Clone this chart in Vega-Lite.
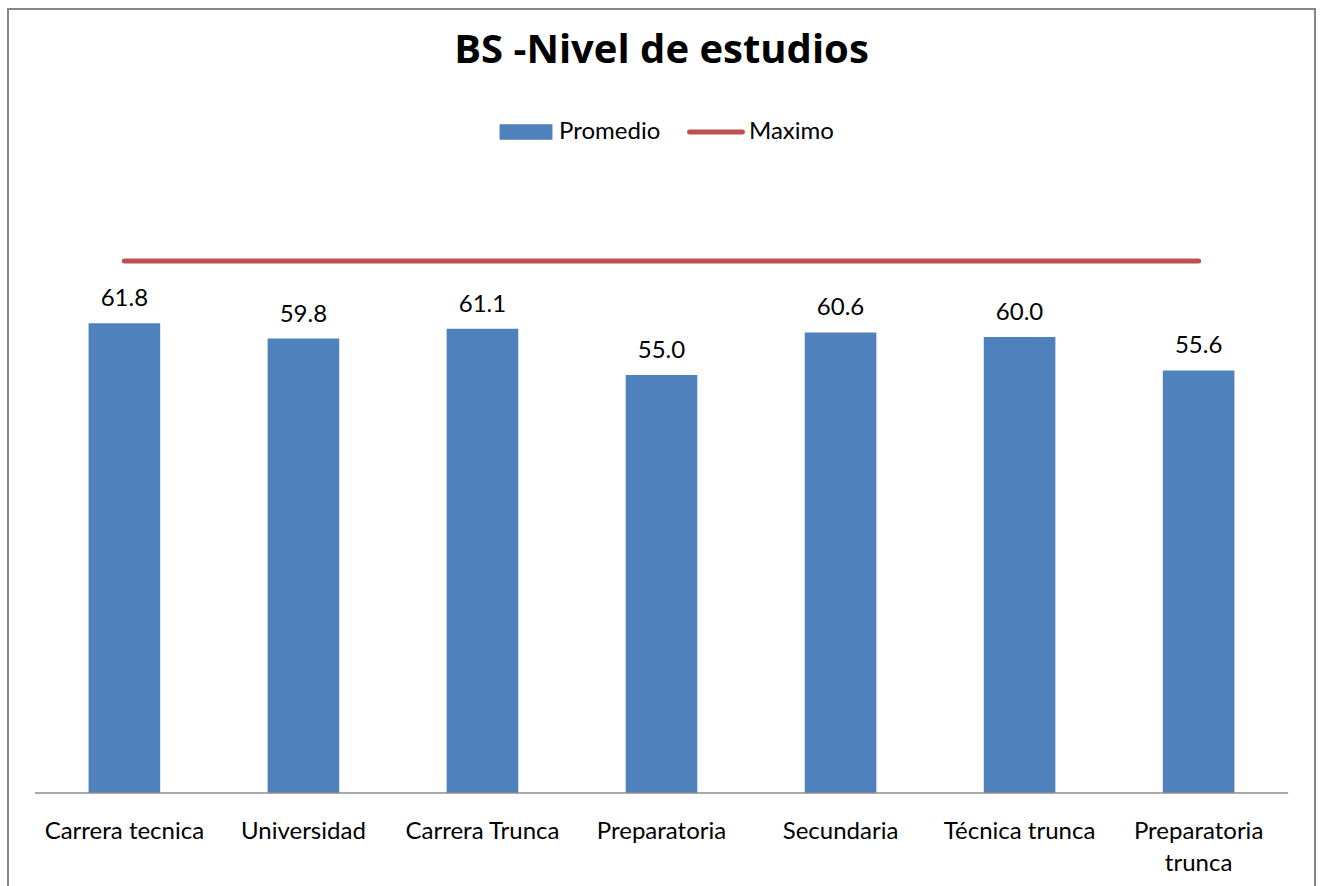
{
  "$schema": "https://vega.github.io/schema/vega-lite/v6.json",
  "width": 1307,
  "height": 880,
  "autosize": {"type": "none"},
  "padding": {"left": 8, "top": 9, "right": 8, "bottom": 0},
  "background": "white",
  "config": {
    "font": "Lato",
    "view": {"stroke": "#868686", "strokeWidth": 2}
  },
  "title": {
    "text": "BS -Nivel de estudios",
    "font": "Open Sans",
    "fontSize": 40,
    "fontWeight": "bold",
    "color": "#000000",
    "anchor": "middle",
    "frame": "group",
    "baseline": "alphabetic",
    "offset": -94
  },
  "data": {
    "values": [
      {"nivel": "Carrera tecnica", "promedio": 61.8, "maximo": 70},
      {"nivel": "Universidad", "promedio": 59.8, "maximo": 70},
      {"nivel": "Carrera Trunca", "promedio": 61.1, "maximo": 70},
      {"nivel": "Preparatoria", "promedio": 55.0, "maximo": 70},
      {"nivel": "Secundaria", "promedio": 60.6, "maximo": 70},
      {"nivel": "Técnica trunca", "promedio": 60.0, "maximo": 70},
      {"nivel": "Preparatoria trunca", "promedio": 55.6, "maximo": 70}
    ]
  },
  "encoding": {
    "x": {
      "field": "nivel",
      "type": "nominal",
      "sort": null,
      "scale": {"type": "band", "paddingInner": 0, "paddingOuter": 0.15},
      "axis": {
        "title": null,
        "domain": false,
        "ticks": false,
        "tickSize": 0,
        "labelAngle": 0,
        "labelFontSize": 24,
        "labelColor": "#000000",
        "labelBaseline": "alphabetic",
        "labelPadding": 45,
        "labelLineHeight": 32,
        "offset": -96,
        "labelExpr": "datum.label == 'Preparatoria trunca' ? ['Preparatoria', 'trunca'] : datum.label"
      }
    }
  },
  "layer": [
    {
      "mark": {"type": "bar", "width": {"band": 0.4}},
      "encoding": {
        "y": {
          "field": "promedio",
          "type": "quantitative",
          "scale": {"domain": [-12.63, 103.16], "nice": false, "zero": false},
          "axis": null
        },
        "y2": {"datum": 0},
        "color": {
          "datum": "Promedio",
          "type": "nominal",
          "scale": {"domain": ["Promedio", "Maximo"], "range": ["#4F81BD", "#C0504D"]},
          "legend": {
            "title": null,
            "orient": "none",
            "direction": "horizontal",
            "legendX": 506,
            "legendY": 111,
            "labelFontSize": 24,
            "labelColor": "#000000",
            "labelOffset": 21,
            "columnPadding": 18,
            "symbolSize": 2800,
            "encode": {
              "symbols": {
                "update": {
                  "shape": {"signal": "datum.value === 'Maximo' ? 'M-1,0H1' : 'M-1,-0.29H1V0.29H-1Z'"},
                  "fill": {"signal": "datum.value === 'Maximo' ? 'transparent' : '#4F81BD'"},
                  "stroke": {"signal": "datum.value === 'Maximo' ? '#C0504D' : 'transparent'"},
                  "strokeWidth": {"signal": "datum.value === 'Maximo' ? 5 : 0"},
                  "strokeCap": {"value": "round"},
                  "opacity": {"value": 1}
                }
              }
            }
          }
        }
      }
    },
    {
      "mark": {"type": "text", "baseline": "alphabetic", "dy": -17, "fontSize": 24, "color": "#000000"},
      "encoding": {
        "y": {"field": "promedio", "type": "quantitative"},
        "text": {"field": "promedio", "type": "quantitative", "format": ".1f"}
      }
    },
    {
      "mark": {"type": "line", "strokeWidth": 5, "strokeCap": "round"},
      "encoding": {
        "y": {"field": "maximo", "type": "quantitative"},
        "color": {"datum": "Maximo", "type": "nominal"}
      }
    },
    {
      "data": {"values": [{"base": 0}]},
      "mark": {"type": "rule", "color": "#8C8C8C", "strokeWidth": 1.5},
      "encoding": {
        "x": {"datum": "Carrera tecnica", "bandPosition": 0},
        "x2": {"datum": "Preparatoria trunca", "bandPosition": 1},
        "y": {"field": "base", "type": "quantitative"}
      }
    }
  ]
}
